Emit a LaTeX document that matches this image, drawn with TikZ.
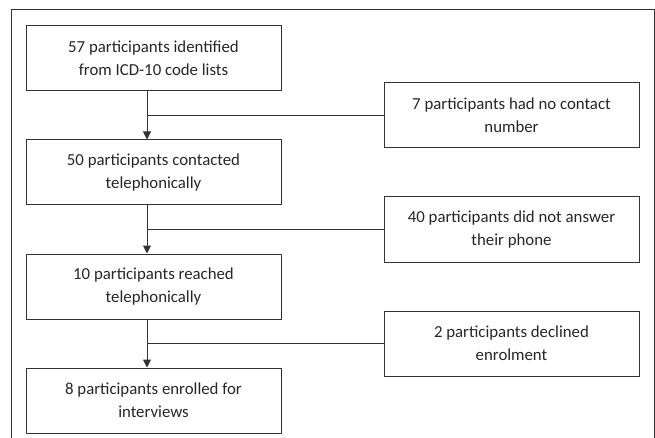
\documentclass[tikz,border=0pt]{standalone}
\usepackage{fontspec}
\setmainfont{Carlito}
\usetikzlibrary{arrows.meta}
\definecolor{linegray}{HTML}{333333}

\begin{document}
\begin{tikzpicture}[x=1pt,y=1pt,node distance=114pt,
    main node/.style={draw=linegray,line width=1pt,minimum width=255pt,minimum height=65pt,
      inner sep=0pt,align=center,text=black!85,font=\fontsize{16.8}{23}\selectfont},
    flow/.style={draw=linegray,line width=1pt}]
    \useasboundingbox (0,0) rectangle (655,-438);
    \draw[flow] (11,-438) -- (11,-10) -- (654,-10) -- (654,-438);

    \node[main node] (ident) at (153.5,-58.5) {57 participants identified\\from ICD-10 code lists};
    \node[main node] (contact) [below of=ident] {50 participants contacted\\telephonically};
    \node[main node] (reach) [below of=contact] {10 participants reached\\telephonically};
    \node[main node] (enrol) [below of=reach] {8 participants enrolled for\\interviews};

    \node[main node] (nonumber) [right of=ident,xshift=244pt,yshift=-57pt] {7 participants had no contact\\number};
    \node[main node] (noanswer) [below of=nonumber] {40 participants did not answer\\their phone};
    \node[main node] (declined) [below of=noanswer] {2 participants declined\\enrolment};

    \coordinate (j1) at ([xshift=-6.5pt]ident.south |- nonumber.west);
    \coordinate (j2) at ([xshift=-6.5pt]contact.south |- noanswer.west);
    \coordinate (j3) at ([xshift=-6.5pt]reach.south |- declined.west);

    \path[every edge/.style={flow,-{Triangle[length=8pt,width=8pt]}}]
    ([xshift=-6.5pt]ident.south) edge ([xshift=-6.5pt]contact.north)
    ([xshift=-6.5pt]contact.south) edge ([xshift=-6.5pt]reach.north)
    ([xshift=-6.5pt]reach.south) edge ([xshift=-6.5pt]enrol.north);

    \path[every edge/.style={flow}]
    (nonumber) edge (j1)
    (noanswer) edge (j2)
    (declined) edge (j3);
  \end{tikzpicture}
\end{document}
